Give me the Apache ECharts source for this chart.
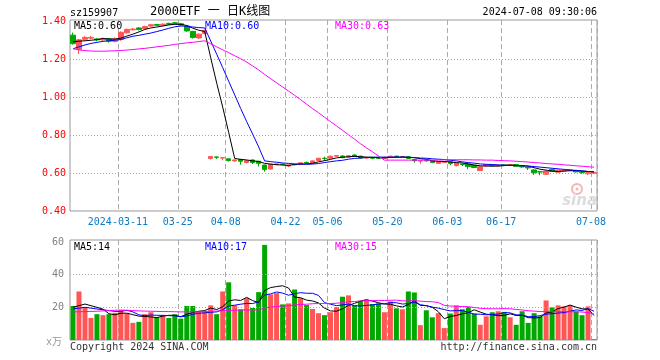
<!DOCTYPE html>
<html><head><meta charset="utf-8">
<script src="https://cdn.jsdelivr.net/npm/echarts@6/dist/echarts.min.js"></script>
<style>html,body{margin:0;padding:0;background:#fff}#c{width:660px;height:360px}</style>
</head><body><div id="c"></div>
<script>
const dates = ['2024-02-28','2024-02-29','2024-03-01','2024-03-04','2024-03-05','2024-03-06','2024-03-07','2024-03-08','2024-03-11','2024-03-12',
'2024-03-13','2024-03-14','2024-03-15','2024-03-18','2024-03-19','2024-03-20','2024-03-21','2024-03-22','2024-03-25','2024-03-26',
'2024-03-27','2024-03-28','2024-03-29','2024-04-01','2024-04-02','2024-04-03','2024-04-08','2024-04-09','2024-04-10','2024-04-11',
'2024-04-12','2024-04-15','2024-04-16','2024-04-17','2024-04-18','2024-04-19','2024-04-22','2024-04-23','2024-04-24','2024-04-25',
'2024-04-26','2024-04-29','2024-04-30','2024-05-06','2024-05-07','2024-05-08','2024-05-09','2024-05-10','2024-05-13','2024-05-14',
'2024-05-15','2024-05-16','2024-05-17','2024-05-20','2024-05-21','2024-05-22','2024-05-23','2024-05-24','2024-05-27','2024-05-28',
'2024-05-29','2024-05-30','2024-05-31','2024-06-03','2024-06-04','2024-06-05','2024-06-06','2024-06-07','2024-06-11','2024-06-12',
'2024-06-13','2024-06-14','2024-06-17','2024-06-18','2024-06-19','2024-06-20','2024-06-21','2024-06-24','2024-06-25','2024-06-26',
'2024-06-27','2024-06-28','2024-07-01','2024-07-02','2024-07-03','2024-07-04','2024-07-05','2024-07-08'];

const openP = [1.330,1.255,1.308,1.314,1.310,1.305,1.310,1.297,1.308,1.342,
1.358,1.368,1.365,1.378,1.386,1.382,1.392,1.395,1.390,1.378,
1.350,1.315,1.338,0.678,0.686,0.680,0.676,0.665,0.672,0.656,
0.670,0.663,0.643,0.622,0.645,0.648,0.638,0.646,0.648,0.657,
0.653,0.667,0.679,0.679,0.690,0.691,0.685,0.696,0.690,0.680,
0.683,0.681,0.679,0.683,0.690,0.686,0.686,0.672,0.664,0.667,
0.666,0.652,0.657,0.660,0.640,0.648,0.648,0.642,0.614,0.638,
0.644,0.638,0.644,0.641,0.646,0.637,0.631,0.617,0.608,0.594,
0.620,0.605,0.612,0.614,0.613,0.607,0.597,0.599];
const highP = [1.343,1.310,1.325,1.326,1.315,1.318,1.315,1.318,1.350,1.365,
1.368,1.372,1.380,1.390,1.390,1.392,1.396,1.400,1.395,1.382,
1.352,1.340,1.360,0.690,0.687,0.683,0.677,0.672,0.676,0.668,
0.672,0.665,0.645,0.650,0.652,0.650,0.645,0.648,0.656,0.661,
0.668,0.680,0.687,0.692,0.696,0.694,0.695,0.699,0.692,0.685,
0.685,0.684,0.688,0.692,0.692,0.690,0.688,0.674,0.668,0.668,
0.667,0.660,0.664,0.662,0.654,0.650,0.650,0.645,0.636,0.647,
0.646,0.644,0.646,0.647,0.647,0.639,0.633,0.620,0.610,0.613,
0.622,0.618,0.617,0.620,0.615,0.609,0.605,0.606];
const lowP = [1.280,1.230,1.300,1.308,1.298,1.300,1.290,1.292,1.300,1.338,
1.355,1.355,1.362,1.375,1.378,1.380,1.383,1.388,1.378,1.348,
1.312,1.310,1.335,0.672,0.675,0.668,0.661,0.660,0.645,0.652,
0.648,0.636,0.608,0.620,0.642,0.642,0.632,0.640,0.645,0.650,
0.650,0.665,0.665,0.676,0.688,0.680,0.682,0.686,0.678,0.676,
0.674,0.676,0.676,0.680,0.683,0.683,0.675,0.656,0.650,0.661,
0.654,0.649,0.655,0.642,0.636,0.638,0.621,0.627,0.611,0.635,
0.636,0.635,0.637,0.638,0.634,0.628,0.617,0.591,0.589,0.592,
0.606,0.603,0.609,0.611,0.604,0.596,0.590,0.597];
const closeP = [1.285,1.305,1.318,1.318,1.305,1.312,1.298,1.310,1.345,1.360,
1.362,1.360,1.375,1.385,1.382,1.388,1.388,1.392,1.383,1.352,
1.318,1.335,1.355,0.688,0.684,0.682,0.667,0.670,0.663,0.666,
0.657,0.652,0.620,0.647,0.649,0.646,0.643,0.645,0.655,0.654,
0.665,0.679,0.677,0.690,0.693,0.682,0.692,0.688,0.680,0.683,
0.679,0.679,0.683,0.690,0.687,0.688,0.678,0.666,0.666,0.665,
0.656,0.659,0.662,0.652,0.652,0.646,0.635,0.630,0.634,0.645,
0.639,0.642,0.642,0.645,0.636,0.633,0.628,0.602,0.606,0.611,
0.609,0.616,0.614,0.617,0.607,0.604,0.603,0.604];

const ma5 = [1.295,1.298,1.300,1.303,1.306,1.312,1.310,1.309,1.314,1.325,
1.335,1.347,1.360,1.368,1.373,1.378,1.384,1.387,1.387,1.381,
1.367,1.356,1.349,1.210,1.076,0.949,0.815,0.678,0.673,0.670,
0.665,0.662,0.652,0.648,0.645,0.643,0.641,0.646,0.648,0.649,
0.652,0.660,0.666,0.673,0.681,0.684,0.687,0.689,0.687,0.685,
0.684,0.682,0.681,0.683,0.684,0.685,0.685,0.682,0.677,0.673,
0.666,0.662,0.662,0.659,0.656,0.654,0.649,0.643,0.639,0.638,
0.637,0.638,0.640,0.643,0.641,0.640,0.637,0.629,0.621,0.616,
0.611,0.609,0.611,0.613,0.613,0.612,0.609,0.607];
const ma10 = [1.258,1.268,1.278,1.286,1.292,1.297,1.300,1.303,1.307,1.316,
1.324,1.329,1.335,1.341,1.349,1.357,1.366,1.374,1.378,1.377,
1.373,1.370,1.368,1.299,1.229,1.158,1.086,1.014,0.942,0.873,
0.807,0.739,0.665,0.661,0.658,0.654,0.652,0.649,0.648,0.647,
0.648,0.651,0.656,0.661,0.665,0.668,0.674,0.678,0.680,0.683,
0.684,0.685,0.685,0.685,0.685,0.685,0.684,0.682,0.680,0.679,
0.676,0.674,0.672,0.668,0.665,0.660,0.656,0.653,0.649,0.647,
0.646,0.644,0.642,0.641,0.640,0.639,0.638,0.635,0.632,0.629,
0.626,0.623,0.620,0.617,0.615,0.612,0.609,0.609];
const ma30 = [1.258,1.252,1.248,1.246,1.245,1.245,1.246,1.247,1.249,1.251,
1.254,1.257,1.260,1.264,1.268,1.272,1.276,1.281,1.285,1.289,
1.292,1.296,1.300,1.284,1.268,1.252,1.237,1.221,1.205,1.188,
1.167,1.146,1.122,1.100,1.078,1.056,1.034,1.012,0.989,0.965,
0.942,0.920,0.896,0.873,0.850,0.827,0.803,0.780,0.756,0.734,
0.713,0.691,0.669,0.669,0.669,0.669,0.669,0.669,0.669,0.669,
0.669,0.669,0.671,0.671,0.671,0.671,0.671,0.670,0.670,0.669,
0.669,0.667,0.666,0.665,0.663,0.661,0.659,0.656,0.654,0.651,
0.649,0.647,0.644,0.642,0.639,0.637,0.634,0.632];

const volume = [20.8,29.7,20.2,13.5,15.8,15.2,15.8,16.6,18.4,16.2,
10.5,11.1,15.8,17.0,13.9,15.2,13.5,15.8,13.1,20.8,
20.8,17.6,17.6,21.2,15.8,29.7,35.3,21.2,18.8,25.6,
19.6,29.3,58.2,27.9,28.7,21.8,22.4,30.9,25.6,21.4,
19.0,16.4,15.2,17.0,20.2,26.5,27.3,21.2,24.0,24.4,
22.0,22.4,17.0,23.6,19.4,18.8,29.7,29.1,9.1,18.2,
13.9,16.4,7.3,16.2,21.2,18.8,20.2,16.2,9.3,14.5,
17.0,17.6,17.2,13.9,9.3,17.6,10.5,16.4,14.5,24.2,
20.0,21.2,20.6,21.2,17.4,15.2,20.6,0.6];
const vma5 = [20.0,21.0,22.0,21.0,20.0,18.9,16.1,15.4,16.4,16.4,
15.5,14.6,14.4,14.1,13.7,14.6,15.1,15.1,14.3,15.7,
16.8,17.6,18.0,19.6,18.6,20.4,23.9,24.6,24.2,26.1,
24.1,22.9,30.3,32.1,32.7,33.2,31.8,26.3,25.9,24.4,
23.9,22.7,19.5,17.8,17.6,19.1,21.2,22.4,23.8,24.7,
23.8,22.8,22.0,21.9,20.9,20.2,21.7,24.1,21.2,21.0,
20.0,17.3,13.0,14.4,15.0,16.0,16.7,18.5,17.1,15.8,
15.4,14.9,15.1,16.0,15.0,15.1,13.7,13.5,13.7,16.6,
17.1,19.3,20.1,21.4,20.1,19.1,19.0,15.0];
const vma10 = [19.0,19.5,20.0,19.5,19.0,18.5,18.0,17.5,17.5,18.2,
17.2,15.4,14.9,15.3,15.1,15.1,14.9,14.8,14.2,14.7,
15.7,16.4,16.6,17.0,17.2,18.6,20.8,21.3,21.9,22.4,
22.3,23.4,27.5,28.2,29.4,28.7,27.4,28.3,29.0,28.6,
28.6,27.3,22.9,21.9,21.0,21.5,22.0,21.0,20.8,21.2,
21.5,22.0,22.2,22.9,22.8,22.0,22.3,23.1,21.6,21.0,
20.1,19.5,18.6,17.8,18.0,18.0,17.0,15.8,15.8,15.4,
15.7,15.8,16.8,16.6,15.4,15.3,14.3,14.3,14.9,15.8,
16.1,16.5,16.8,17.6,18.4,18.1,19.2,17.6];
const vma30 = [17.2,17.3,17.4,17.5,17.6,17.8,18.0,18.2,18.3,18.2,
18.0,17.8,17.7,17.6,17.5,17.4,17.4,17.3,17.2,17.2,
17.2,17.3,17.4,17.6,17.7,17.9,18.1,18.2,18.3,18.4,
18.4,18.4,19.6,20.1,20.5,20.8,21.0,21.5,21.7,21.9,
22.2,22.3,22.3,22.3,22.5,22.9,23.4,23.5,23.9,24.0,
24.1,24.2,24.2,24.3,24.4,24.0,23.9,24.1,23.8,23.5,
23.4,22.9,21.2,20.8,20.6,20.5,20.4,19.9,19.4,19.2,
19.1,19.1,19.2,19.1,18.7,18.4,17.9,17.7,17.4,17.4,
17.3,17.3,17.4,17.3,17.3,17.1,16.8,15.9];

const dateTickIdx = [8,18,26,36,43,53,63,72,87];
const dateTickLabels = ['2024-03-11','03-25','04-08','04-22','05-06','05-20','06-03','06-17','07-08'];
const priceGridLines = [0.6,0.8,1.0,1.2];
const volGridLines = [20,40];

const RED = '#ff5555', GREEN = '#00a800';
const MONO = '"DejaVu Sans Mono","Noto Sans CJK SC",monospace';

const kData = dates.map((d,i)=>[openP[i],closeP[i],lowP[i],highP[i]]);
const volData = volume.map((v,i)=>({value:v,itemStyle:{color: closeP[i]>=openP[i]?RED:GREEN}}));
const tickSet = {}; dateTickIdx.forEach((k,j)=>tickSet[k]=dateTickLabels[j]);
const isTick = (idx)=> tickSet[idx]!==undefined;

const chart = echarts.init(document.getElementById('c'), null, {renderer:'canvas'});
const dashed = {color:'#aaa', type:[5,3], width:1};
const dotted = {color:'#aaa', type:[1,2], width:1};
const lineS = (name, data, color, xi, yi)=>({name, type:'line', data, xAxisIndex:xi, yAxisIndex:yi, symbol:'none', showSymbol:false, lineStyle:{color, width:1}, itemStyle:{color}, z:5, silent:true});

chart.setOption({
  animation:false,
  backgroundColor:'#fff',
  grid:[
    {left:70, top:20, width:527, height:191, show:true, borderColor:'#999', borderWidth:1},
    {left:70, top:240, width:527, height:100, show:true, borderColor:'#999', borderWidth:1}
  ],
  xAxis:[
    {type:'category', gridIndex:0, data:dates, boundaryGap:true,
     axisLine:{show:false}, axisTick:{show:false},
     axisLabel:{interval:(i)=>isTick(i), formatter:(v,i)=>tickSet[i]||'', color:'#0a7bc4', fontFamily:MONO, fontSize:10, margin:6, padding:[0,6,0,0]},
     splitLine:{show:true, interval:(i)=>isTick(i), lineStyle:dashed}},
    {type:'category', gridIndex:1, data:dates, boundaryGap:true,
     axisLine:{show:false}, axisTick:{show:false}, axisLabel:{show:false},
     splitLine:{show:true, interval:(i)=>isTick(i), lineStyle:dashed}}
  ],
  yAxis:[
    {type:'value', gridIndex:0, min:0.4, max:1.41, interval:0.2, axisLine:{show:false}, axisTick:{show:false}, splitLine:{show:false},
     axisLabel:{color:'#ff0000', fontFamily:MONO, fontSize:10, margin:4,
       formatter:(v)=> Math.abs(v*5-Math.round(v*5))<1e-6 ? v.toFixed(2) : ''}},
    {type:'value', gridIndex:1, min:0, max:61.2, interval:20, axisLine:{show:false}, axisTick:{show:false}, splitLine:{show:false},
     axisLabel:{color:'#808080', fontFamily:MONO, fontSize:10, margin:6,
       formatter:(v)=> (v>0 && v%20===0) ? String(v) : ''}}
  ],
  series:[
    {type:'candlestick', xAxisIndex:0, yAxisIndex:0, data:kData, barWidth:5,
     itemStyle:{color:RED, color0:GREEN, borderColor:RED, borderColor0:GREEN, borderWidth:1},
     markLine:{silent:true, symbol:['none','none'], label:{show:false}, lineStyle:dotted,
       data: priceGridLines.map(v=>({yAxis:v}))}, z:3},
    lineS('MA5', ma5, '#000000', 0, 0),
    lineS('MA10', ma10, '#0000ff', 0, 0),
    lineS('MA30', ma30, '#ff00ff', 0, 0),
    {type:'bar', xAxisIndex:1, yAxisIndex:1, data:volData, barWidth:5,
     markLine:{silent:true, symbol:['none','none'], label:{show:false}, lineStyle:dotted,
       data: volGridLines.map(v=>({yAxis:v}))}, z:3},
    lineS('VMA5', vma5, '#000000', 1, 1),
    lineS('VMA10', vma10, '#0000ff', 1, 1),
    lineS('VMA30', vma30, '#ff00ff', 1, 1)
  ],
  graphic:[
    {type:'text', x:70, y:13, style:{text:'sz159907', font:'10px '+MONO, fill:'#000', align:'left', verticalAlign:'middle'}},
    {type:'text', x:150, y:12, style:{text:'2000ETF 一 日K线图', font:'12px '+MONO, fill:'#000', align:'left', verticalAlign:'middle'}},
    {type:'text', x:597, y:12.5, style:{text:'2024-07-08 09:30:06', font:'10px '+MONO, fill:'#000', align:'right', verticalAlign:'middle'}},
    {type:'text', x:74, y:26, z:10, style:{text:'MA5:0.60', font:'10px '+MONO, fill:'#000', align:'left', verticalAlign:'middle'}},
    {type:'text', x:205, y:26, z:10, style:{text:'MA10:0.60', font:'10px '+MONO, fill:'#0000ff', align:'left', verticalAlign:'middle'}},
    {type:'text', x:335, y:26, z:10, style:{text:'MA30:0.63', font:'10px '+MONO, fill:'#ff00ff', align:'left', verticalAlign:'middle'}},
    {type:'text', x:74, y:247, z:10, style:{text:'MA5:14', font:'10px '+MONO, fill:'#000', align:'left', verticalAlign:'middle'}},
    {type:'text', x:205, y:247, z:10, style:{text:'MA10:17', font:'10px '+MONO, fill:'#0000ff', align:'left', verticalAlign:'middle'}},
    {type:'text', x:335, y:247, z:10, style:{text:'MA30:15', font:'10px '+MONO, fill:'#ff00ff', align:'left', verticalAlign:'middle'}},
    {type:'text', x:46, y:342, style:{text:'x万', font:'10px '+MONO, fill:'#999', align:'left', verticalAlign:'middle'}},
    {type:'text', x:70, y:347, style:{text:'Copyright 2024 SINA.COM', font:'10px '+MONO, fill:'#333', align:'left', verticalAlign:'middle'}},
    {type:'text', x:597, y:347, style:{text:'http://finance.sina.com.cn', font:'10px '+MONO, fill:'#333', align:'right', verticalAlign:'middle'}},
    {type:'circle', z:1, shape:{cx:577, cy:189, r:5}, style:{fill:'none', stroke:'#f4b4b4', lineWidth:2}},
    {type:'circle', z:1, shape:{cx:577, cy:189, r:1.5}, style:{fill:'#f4b4b4'}},
    {type:'text', x:597, y:201, z:1, style:{text:'sina', font:'italic bold 15px "DejaVu Sans"', fill:'#dcdcdc', align:'right', verticalAlign:'middle'}}
  ]
});
</script></body></html>
